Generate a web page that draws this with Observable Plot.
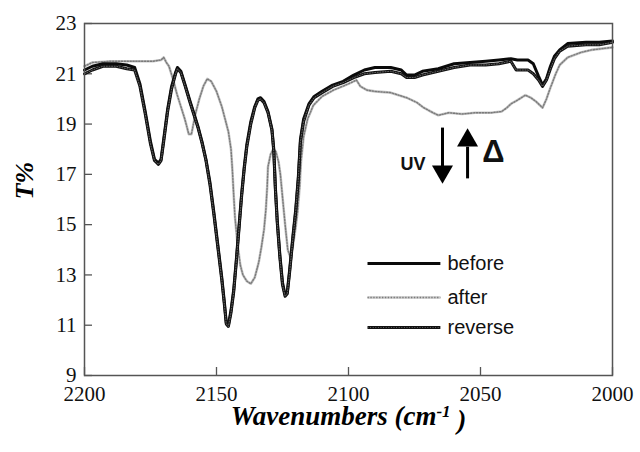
<!DOCTYPE html>
<html><head><meta charset="utf-8">
<script src="https://cdn.jsdelivr.net/npm/d3@7"></script>
<script src="https://cdn.jsdelivr.net/npm/@observablehq/plot@0.6"></script>
<style>
body{margin:0;background:#fff;}
#chart svg{display:block;}
#chart g[aria-label$="tick label"] text{font-family:"Liberation Serif","Times New Roman",serif !important;}
</style></head><body><div id="chart"></div>
<script>
// ---- data ----
const wnBefore = [2200,2197,2193,2188,2184,2181,2179,2177,2175,2173.5,2172,2171,2170,2168.5,2167,2165.5,2164.8,2163.5,2162,2160,2158.5,2157,2155.5,2154,2152.5,2151,2149.5,2148,2147,2146.3,2145.5,2144.5,2143.5,2142.5,2141.5,2140.5,2139.5,2138.5,2137,2135.5,2134.3,2133.3,2132,2130.5,2129,2128.3,2127.7,2127,2126,2125,2124,2123.2,2122.3,2121,2120,2119,2118.2,2117,2115,2113,2110,2106,2102,2098,2094,2090,2084,2080,2078,2075,2072,2066,2060,2054,2048,2043,2038.5,2036,2032,2030,2028,2026.5,2025,2023.5,2022,2020,2017,2010,2005,2000];
const tBefore = [21.15,21.3,21.4,21.4,21.35,21.25,20.6,19.5,18.3,17.6,17.45,17.6,18.4,19.6,20.5,21.05,21.25,21.1,20.6,19.9,19.4,18.9,18.3,17.6,16.7,15.5,14.2,12.9,11.9,11.1,11.0,11.6,12.4,13.6,14.9,16.2,17.3,18.2,19.1,19.7,20.0,20.05,19.9,19.5,18.8,18.0,16.5,15.2,13.8,12.7,12.2,12.3,13.2,14.6,15.6,16.9,18.4,19.2,19.8,20.1,20.3,20.55,20.7,20.95,21.15,21.25,21.25,21.15,20.95,20.95,21.1,21.2,21.4,21.45,21.5,21.55,21.6,21.55,21.55,21.4,20.9,20.55,20.8,21.3,21.7,21.95,22.2,22.25,22.25,22.3];

const wnReverse = [2200,2197,2193,2188,2184,2181,2179,2177,2175,2173.5,2172,2171,2170,2168.5,2167,2165.5,2164.8,2163.5,2162,2160,2158.5,2157,2155.5,2154,2152.5,2151,2149.5,2148,2147,2146.3,2145.5,2144.5,2143.5,2142.5,2141.5,2140.5,2139.5,2138.5,2137,2135.5,2134.3,2133.3,2132,2130.5,2129,2128.3,2127.7,2127,2126,2125,2124,2123.2,2122.3,2121,2120,2119,2118.2,2117,2115,2113,2110,2106,2102,2098,2094,2090,2084,2080,2078,2075,2072,2066,2060,2054,2048,2043,2038.5,2036.5,2032,2030,2028,2026.5,2025,2023.5,2022,2020,2017,2010,2005,2000];
const tReverse = [21.0,21.15,21.3,21.3,21.2,21.15,20.5,19.4,18.2,17.55,17.4,17.55,18.3,19.5,20.4,21.0,21.2,21.05,20.55,19.85,19.35,18.85,18.25,17.55,16.6,15.4,14.1,12.8,11.8,11.05,10.95,11.5,12.3,13.5,14.8,16.1,17.2,18.1,19.0,19.65,19.95,20.0,19.85,19.45,18.75,17.9,16.4,15.1,13.7,12.6,12.15,12.25,13.1,14.5,15.5,16.8,18.3,19.1,19.75,20.05,20.25,20.5,20.65,20.85,21.0,21.05,21.1,21.0,20.85,20.85,20.95,21.1,21.25,21.35,21.35,21.4,21.5,21.15,21.15,21.0,20.75,20.5,20.75,21.2,21.6,21.9,22.1,22.15,22.15,22.25];

const wnAfter = [2200,2197,2190,2180,2174,2171,2170,2169,2168,2166.5,2165,2163.5,2162,2160.5,2159.5,2158,2156.5,2155,2153.5,2152,2150,2148,2147,2145.5,2144.5,2144,2143.5,2143,2142,2141,2140,2138.5,2137,2135.5,2134,2133,2132,2131.3,2130.8,2130.5,2129.5,2128.5,2127.5,2126.5,2125.8,2125,2124,2123,2122,2121,2120,2119.3,2118.5,2118,2117,2115.5,2113.3,2110,2105.7,2100,2097,2095.5,2093,2090,2084,2078,2074,2071.5,2068,2066,2062,2057,2052,2046,2042,2040,2038.5,2036,2033,2031,2029,2026.5,2025,2023.5,2021.5,2020,2017,2012,2008,2004,2000];
const tAfter = [21.3,21.45,21.5,21.5,21.5,21.55,21.65,21.45,21.3,20.8,20.2,19.7,19.2,18.6,18.6,19.4,20.0,20.5,20.8,20.7,20.3,19.7,19.3,18.7,18.0,17.2,16.2,15.3,14.2,13.4,13.0,12.75,12.65,12.9,13.5,14.1,14.8,15.6,16.5,17.3,17.8,18.0,17.9,17.5,17.0,16.1,15.0,14.0,13.7,14.2,14.9,15.5,16.5,17.5,18.5,19.2,19.75,20.1,20.35,20.6,20.75,20.5,20.35,20.3,20.25,20.05,19.85,19.65,19.45,19.35,19.45,19.4,19.45,19.45,19.5,19.65,19.8,19.95,20.15,20.05,19.9,19.65,20.0,20.45,21.0,21.35,21.65,21.85,21.95,22.0,22.05];

const xTicks = [2200, 2150, 2100, 2050, 2000];
const yTicks = [9, 11, 13, 15, 17, 19, 21, 23];
const xTitle = "Wavenumbers (cm-1)";
const yTitle = "T%";

// legend & annotations (data units)
const legendNames = ["before", "after", "reverse"];
const legendT = [13.45, 12.10, 10.91];
const legendWn = [2092.8, 2065.2, 2062.5]; // line start, line end, label
const arrowDown = {wn: 2064.4, t1: 18.86, t2: 17.25, head: 17.11};
const arrowUp = {wn: 2054.9, t1: 16.84, t2: 18.1, head: 18.35};
const uvLabel = {wn: 2075.6, t: 17.39, text: "UV"};
const deltaLabel = {wn: 2045.1, t: 17.89, text: "Δ"};

// ---- build tables ----
const before = wnBefore.map((w, i) => ({wn: w, t: tBefore[i]}));
const reverse = wnReverse.map((w, i) => ({wn: w, t: tReverse[i]}));
const after = wnAfter.map((w, i) => ({wn: w, t: tAfter[i]}));
const legend = legendNames.map((n, i) => ({name: n, t: legendT[i], x1: legendWn[0], x2: legendWn[1], xl: legendWn[2]}));

const sans = '"Liberation Sans", Arial, sans-serif';
const serif = '"Liberation Serif", "Times New Roman", serif';

const chart = Plot.plot({
  width: 640, height: 452,
  marginLeft: 84, marginRight: 28, marginTop: 23, marginBottom: 77,
  style: {fontFamily: serif, fontSize: "21px", color: "#000", background: "#fff", overflow: "visible"},
  x: {domain: [2200, 2000]},
  y: {domain: [9, 23]},
  marks: [
    Plot.axisX(xTicks, {tickSize: -8, tickPadding: 19, tickFormat: d => String(d), label: null, stroke: "#555", strokeWidth: 1.3, fontSize: 21, fontFamily: serif, fill: "#111"}),
    Plot.axisY(yTicks, {tickSize: -8, tickPadding: 16, tickFormat: d => String(d), label: null, stroke: "#555", strokeWidth: 1.3, fontSize: 21, fontFamily: serif, fill: "#111"}),
    // after (gray dotted)
    Plot.line(after, {x: "wn", y: "t", stroke: "#c6c6c6", strokeWidth: 2.6}),
    Plot.line(after, {x: "wn", y: "t", stroke: "#7a7a7a", strokeWidth: 1.4, strokeDasharray: "1.3,1.6"}),
    // before (solid black)
    Plot.line(before, {x: "wn", y: "t", stroke: "#0a0a0a", strokeWidth: 3}),
    // reverse (black with texture)
    Plot.line(reverse, {x: "wn", y: "t", stroke: "#111", strokeWidth: 3}),
    Plot.line(reverse, {x: "wn", y: "t", stroke: "#777", strokeWidth: 0.8, strokeDasharray: "1,1.6"}),
    Plot.frame({stroke: "#555", strokeWidth: 1.5}),
    // legend
    Plot.link(legend.filter(d => d.name === "before"), {x1: "x1", x2: "x2", y1: "t", y2: "t", stroke: "#0a0a0a", strokeWidth: 3}),
    Plot.link(legend.filter(d => d.name === "after"), {x1: "x1", x2: "x2", y1: "t", y2: "t", stroke: "#c6c6c6", strokeWidth: 2.6}),
    Plot.link(legend.filter(d => d.name === "after"), {x1: "x1", x2: "x2", y1: "t", y2: "t", stroke: "#7a7a7a", strokeWidth: 1.4, strokeDasharray: "1.3,1.6"}),
    Plot.link(legend.filter(d => d.name === "reverse"), {x1: "x1", x2: "x2", y1: "t", y2: "t", stroke: "#111", strokeWidth: 3}),
    Plot.link(legend.filter(d => d.name === "reverse"), {x1: "x1", x2: "x2", y1: "t", y2: "t", stroke: "#777", strokeWidth: 0.8, strokeDasharray: "1,1.6"}),
    Plot.text(legend, {x: "xl", y: "t", text: "name", textAnchor: "start", fontFamily: sans, fontSize: 20, fill: "#111"}),
    // annotations
    Plot.link([arrowDown], {x1: "wn", x2: "wn", y1: "t1", y2: "t2", stroke: "#000", strokeWidth: 3}),
    Plot.dot([arrowDown], {x: "wn", y: "head", symbol: "triangle", r: 7.8, fill: "#000", rotate: 180}),
    Plot.link([arrowUp], {x1: "wn", x2: "wn", y1: "t1", y2: "t2", stroke: "#000", strokeWidth: 3}),
    Plot.dot([arrowUp], {x: "wn", y: "head", symbol: "triangle", r: 7.8, fill: "#000"}),
    Plot.text([uvLabel], {x: "wn", y: "t", text: "text", fontFamily: sans, fontWeight: "bold", fontSize: 18, fill: "#111"}),
    Plot.text([deltaLabel], {x: "wn", y: "t", text: "text", fontFamily: sans, fontWeight: "bold", fontSize: 31, fill: "#111"}),
    // titles
    Plot.text([yTitle], {frameAnchor: "left", dx: -60, rotate: -90, text: d => d, fontFamily: serif, fontWeight: "bold", fontStyle: "italic", fontSize: 26, fill: "#000"}),
    Plot.text([xTitle], {frameAnchor: "bottom", dy: 49, text: d => d, fontFamily: serif, fontWeight: "bold", fontStyle: "italic", fontSize: 27, fill: "#000"})
  ]
});

// tick labels in serif, superscript in x title
chart.querySelectorAll('g[aria-label$="tick label"]').forEach(g => {
  g.setAttribute("font-family", serif);
  g.style.fontFamily = serif;
});
chart.querySelectorAll("text").forEach(t => {
  if (t.textContent === xTitle) {
    const ns = "http://www.w3.org/2000/svg";
    t.textContent = "";
    const a = document.createElementNS(ns, "tspan"); a.textContent = "Wavenumbers (cm";
    const b = document.createElementNS(ns, "tspan"); b.textContent = "-1"; b.setAttribute("dy", "-0.45em"); b.setAttribute("font-size", "17");
    const c = document.createElementNS(ns, "tspan"); c.textContent = " )"; c.setAttribute("dy", "0.45em");
    t.append(a, b, c);
  }
});
document.getElementById("chart").appendChild(chart);
</script></body></html>
